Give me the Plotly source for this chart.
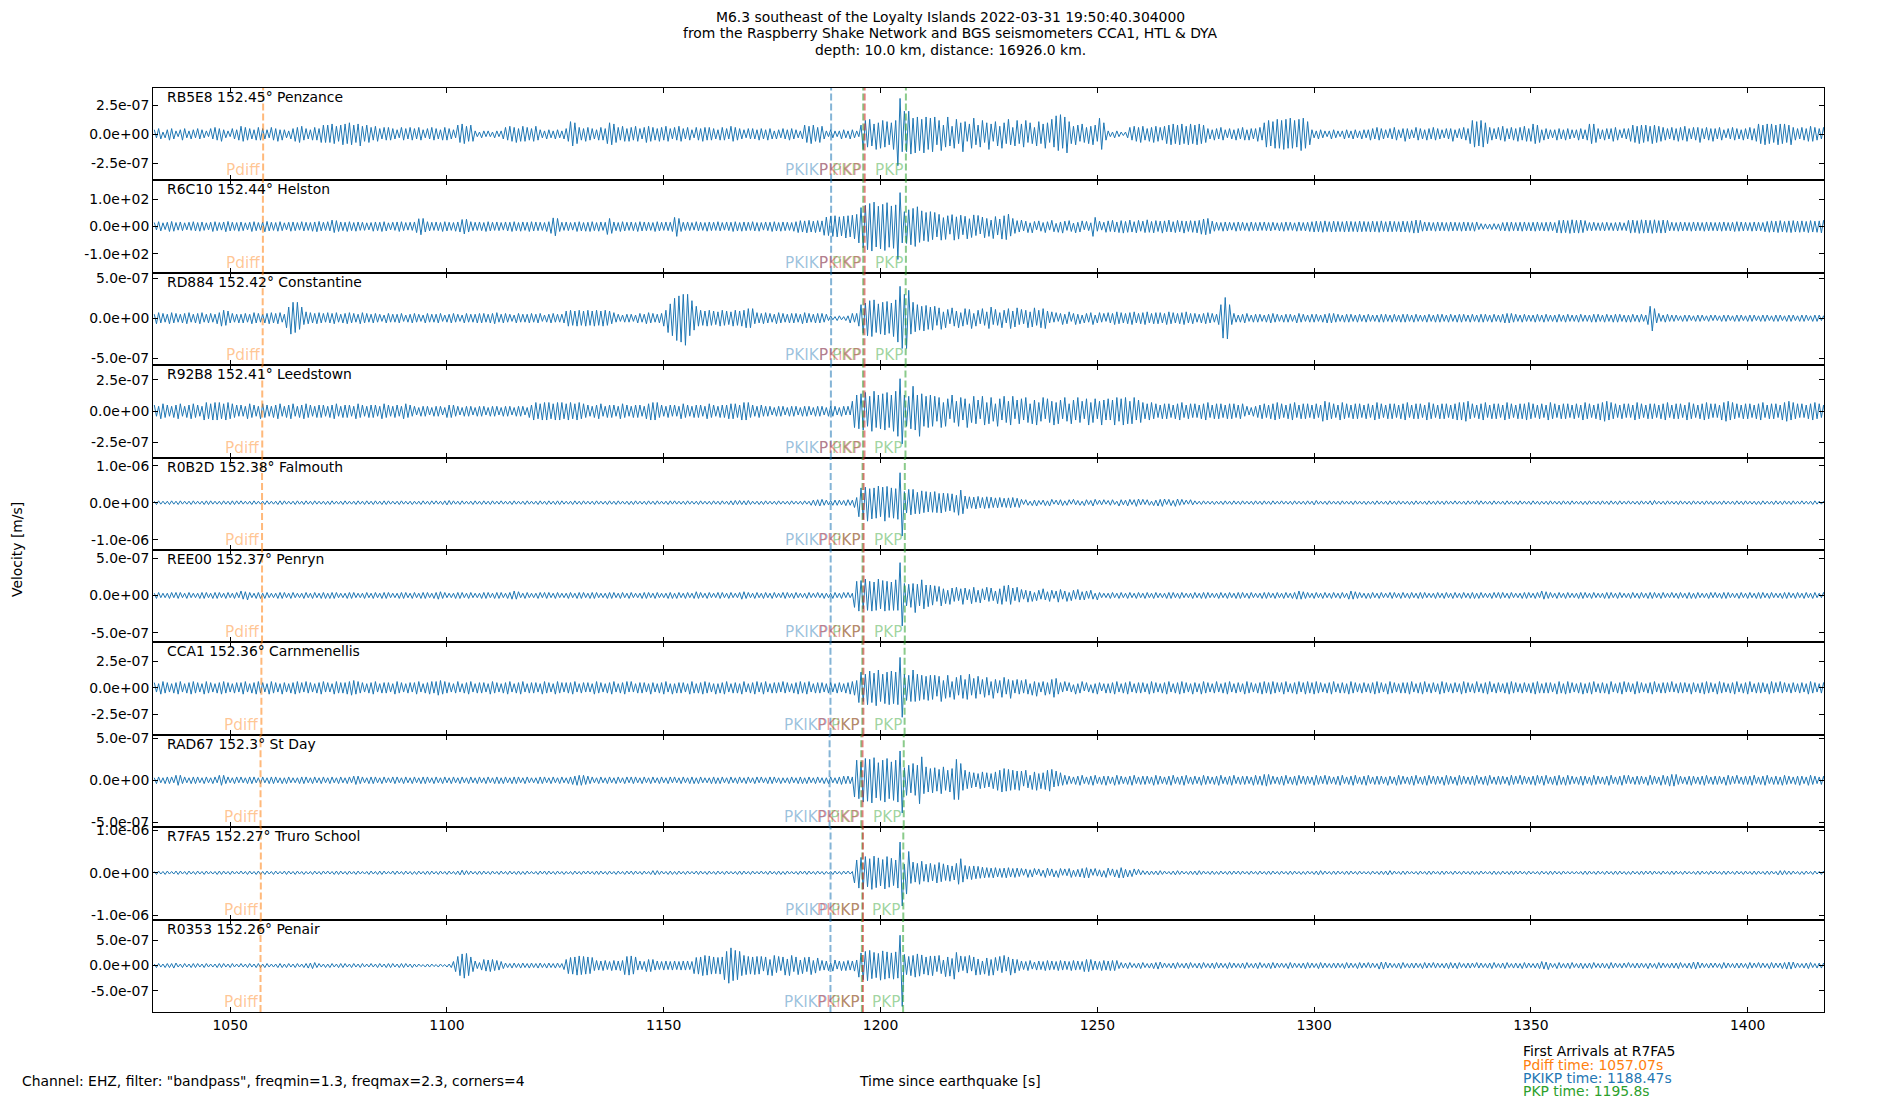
import plotly.graph_objects as go
from plotly.subplots import make_subplots

# decimated traces: one sample every half second from t0 (s after origin)
t0 = 1032.5
dt = 0.5

stations = ["RB5E8", "R6C10", "RD884", "R92B8", "R0B2D", "REE00", "CCA1", "RAD67", "R7FA5", "R0353"]
distances = [152.45, 152.44, 152.42, 152.41, 152.38, 152.37, 152.36, 152.3, 152.27, 152.26]
places = ["Penzance", "Helston", "Constantine", "Leedstown", "Falmouth", "Penryn",
          "Carnmenellis", "St Day", "Truro School", "Penair"]

# unit of each sample list (R6C10 was left in counts)
units = [1e-8, 1.0, 1e-8, 1e-8, 1e-8, 1e-8, 1e-8, 1e-8, 1e-8, 1e-8]

penzance = [
    4, -3, 5, -4, 2, -3, 4, -5, 5, -4, 3, -2, 4, -5, 5, -3, 3, -4, 4, -3,
    5, -4, 4, -3, 3, -2, 5, -4, 6, -5, 5, -6, 4, -3, 3, -2, 5, -4, 4, -5,
    7, -6, 6, -5, 5, -4, 4, -5, 6, -5, 5, -4, 4, -3, 6, -5, 5, -6, 4, -5,
    4, -3, 3, -4, 5, -6, 6, -7, 7, -5, 5, -4, 4, -5, 6, -5, 5, -7, 8, -7,
    8, -7, 9, -8, 7, -6, 8, -9, 9, -8, 10, -9, 8, -7, 9, -10, 7, -6, 8, -7,
    6, -5, 7, -6, 5, -4, 6, -5, 6, -5, 5, -4, 4, -3, 6, -5, 5, -4, 6, -5,
    5, -4, 6, -5, 4, -3, 5, -4, 6, -5, 5, -4, 4, -5, 6, -5, 5, -4, 4, -3,
    8, -7, 9, -8, 7, -6, 8, -6, 3, -2, 2, -3, 3, -2, 3, -2, 2, -3, 3, -2,
    3, -4, 6, -5, 7, -6, 6, -7, 5, -6, 7, -6, 6, -5, 5, -6, 7, -5, 4, -3,
    3, -4, 4, -3, 3, -4, 4, -3, 3, -4, 5, -6, 11, -10, 10, -8, 6, -5, 5, -6,
    6, -5, 5, -4, 4, -5, 6, -5, 5, -8, 10, -9, 9, -7, 6, -5, 7, -6, 5, -6,
    6, -5, 7, -6, 5, -4, 6, -7, 7, -6, 6, -5, 5, -6, 6, -5, 7, -6, 5, -4,
    6, -5, 7, -6, 5, -4, 6, -5, 4, -3, 6, -5, 5, -6, 6, -5, 6, -5, 5, -4,
    4, -5, 6, -5, 5, -4, 7, -6, 6, -5, 5, -4, 4, -3, 5, -4, 5, -4, 4, -5,
    5, -4, 4, -5, 5, -4, 3, -4, 4, -3, 5, -4, 4, -5, 5, -4, 4, -3, 3, -4,
    8, -7, 7, -8, 8, -6, 6, -7, 7, -4, 3, -2, 4, -3, 3, -2, 3, -4, 4, -3,
    3, -4, 4, -3, 3, -2, 8, -13, 12, -11, 13, -10, 9, -13, 10, -12, 12, -11, 11, -9,
    10, -13, 12, -27, 31, -15, 20, -15, 20, -17, 14, -16, 15, -14, 13, -16, 15, -13, 14, -15,
    15, -9, 12, -14, 8, -11, 15, -10, 7, -12, 13, -8, 10, -15, 11, -6, 9, -12, 14, -9,
    8, -11, 12, -7, 10, -13, 9, -6, 11, -10, 7, -12, 10, -8, 13, -9, 6, -10, 12, -8,
    9, -11, 12, -7, 10, -8, 6, -10, 11, -8, 9, -12, 10, -7, 13, -11, 16, -14, 17, -12,
    15, -16, 11, -8, 7, -9, 8, -6, 9, -7, 6, -8, 7, -9, 8, -6, 14, -13, 10, -5,
    3, -2, 2, -3, 3, -2, 2, -1, 2, -3, 6, -5, 7, -6, 6, -7, 7, -5, 5, -6,
    6, -7, 7, -6, 6, -5, 7, -8, 8, -9, 9, -8, 8, -9, 9, -8, 7, -9, 9, -8,
    8, -9, 9, -8, 8, -7, 5, -4, 4, -5, 5, -4, 6, -5, 4, -3, 5, -4, 4, -5,
    5, -4, 6, -5, 4, -5, 5, -4, 5, -6, 6, -5, 10, -11, 12, -10, 11, -12, 13, -12,
    12, -13, 13, -12, 14, -12, 12, -11, 13, -14, 14, -12, 11, -9, 4, -3, 3, -4, 4, -3,
    3, -2, 3, -4, 4, -3, 3, -2, 3, -4, 4, -3, 3, -4, 4, -3, 3, -4, 4, -3,
    4, -5, 5, -4, 6, -5, 5, -4, 4, -3, 5, -4, 6, -5, 4, -3, 5, -6, 5, -4,
    4, -3, 6, -5, 5, -4, 4, -5, 5, -4, 6, -5, 5, -4, 4, -3, 5, -4, 5, -6,
    4, -3, 5, -4, 6, -5, 5, -8, 12, -11, 11, -10, 12, -11, 10, -8, 6, -5, 5, -4,
    6, -5, 7, -6, 5, -4, 6, -5, 5, -6, 6, -5, 7, -6, 5, -6, 9, -8, 8, -7,
    4, -5, 5, -4, 4, -3, 4, -5, 5, -4, 4, -5, 5, -4, 4, -3, 4, -5, 5, -4,
    4, -5, 9, -8, 9, -7, 5, -4, 4, -5, 5, -4, 5, -6, 6, -5, 4, -3, 5, -4,
    5, -6, 8, -7, 7, -8, 8, -7, 8, -6, 7, -8, 8, -7, 7, -6, 6, -5, 5, -4,
    6, -5, 5, -6, 6, -5, 7, -6, 5, -4, 6, -5, 6, -7, 5, -4, 6, -5, 5, -6,
    5, -4, 6, -5, 4, -3, 5, -4, 6, -5, 5, -4, 4, -5, 5, -4, 6, -5, 5, -6,
    9, -8, 8, -9, 9, -8, 9, -7, 8, -9, 9, -8, 9, -7, 8, -9, 6, -5, 5, -4,
    6, -5, 5, -6, 7, -6, 6, -5, 5, -4, 6, -5,
]

helston = [
    15, -12, 18, -16, 14, -11, 16, -18, 19, -17, 15, -13, 17, -15, 14, -12, 16, -14, 18, -16,
    15, -17, 17, -14, 14, -12, 16, -18, 18, -15, 15, -13, 17, -19, 19, -16, 16, -14, 15, -17,
    17, -15, 14, -12, 16, -18, 18, -15, 15, -13, 17, -19, 19, -16, 16, -14, 15, -17, 18, -15,
    14, -12, 16, -17, 17, -15, 15, -13, 18, -16, 16, -14, 15, -17, 17, -19, 19, -16, 16, -14,
    18, -16, 24, -22, 22, -18, 17, -15, 16, -18, 18, -15, 15, -17, 17, -14, 16, -14, 14, -12,
    15, -17, 17, -15, 16, -18, 18, -16, 14, -12, 16, -14, 17, -18, 18, -15, 15, -13, 16, -14,
    17, -22, 29, -30, 30, -20, 18, -16, 16, -14, 17, -15, 15, -18, 18, -16, 16, -14, 15, -17,
    17, -20, 26, -27, 27, -20, 18, -15, 16, -14, 17, -15, 15, -18, 18, -16, 16, -14, 17, -15,
    15, -13, 17, -16, 16, -18, 18, -15, 15, -17, 17, -14, 16, -18, 18, -16, 17, -15, 16, -14,
    15, -18, 18, -25, 32, -34, 30, -18, 16, -14, 17, -15, 15, -13, 16, -18, 18, -16, 15, -17,
    16, -18, 18, -15, 15, -17, 17, -14, 16, -29, 30, -25, 17, -15, 15, -18, 18, -16, 16, -14,
    17, -15, 15, -18, 18, -16, 17, -15, 16, -14, 15, -18, 18, -16, 16, -14, 17, -15, 16, -18,
    34, -36, 30, -18, 16, -14, 17, -15, 15, -13, 18, -16, 16, -14, 15, -17, 17, -15, 16, -14,
    18, -16, 15, -13, 17, -15, 16, -18, 18, -16, 15, -17, 17, -15, 16, -14, 18, -16, 15, -17,
    15, -13, 17, -15, 16, -18, 18, -16, 15, -17, 17, -15, 16, -14, 15, -17, 18, -22, 22, -20,
    21, -23, 23, -20, 20, -22, 22, -19, 21, -32, 35, -33, 38, -36, 40, -38, 36, -34, 38, -42,
    40, -38, 42, -45, 45, -60, 70, -78, 78, -85, 85, -90, 90, -75, 75, -82, 82, -88, 88, -76,
    76, -80, 80, -121, 125, -60, 55, -62, 62, -67, 67, -73, 73, -58, 58, -52, 52, -55, 55, -48,
    52, -38, 45, -50, 33, -47, 40, -28, 44, -50, 36, -46, 42, -30, 38, -45, 29, -40, 43, -33,
    41, -27, 35, -41, 30, -36, 24, -44, 37, -31, 28, -46, 40, -48, 46, -35, 30, -25, 22, -20,
    24, -16, 20, -22, 14, -23, 19, -12, 21, -17, 15, -22, 18, -13, 23, -19, 12, -21, 17, -24,
    20, -14, 22, -18, 13, -23, 16, -20, 21, -12, 19, -15, 14, -36, 34, -17, 20, -13, 16, -21,
    21, -18, 23, -20, 17, -22, 22, -24, 19, -21, 24, -20, 18, -23, 23, -17, 20, -22, 25, -21,
    19, -23, 22, -18, 20, -24, 21, -19, 24, -20, 18, -22, 23, -19, 21, -24, 20, -18, 22, -21,
    21, -23, 23, -28, 28, -30, 30, -26, 20, -17, 16, -14, 15, -17, 17, -16, 16, -13, 15, -17,
    17, -15, 16, -14, 14, -17, 17, -15, 15, -16, 16, -14, 17, -15, 15, -16, 16, -13, 14, -16,
    15, -17, 17, -14, 16, -14, 14, -17, 17, -15, 15, -16, 16, -18, 18, -20, 20, -19, 19, -21,
    21, -18, 18, -20, 20, -19, 19, -18, 18, -20, 20, -19, 19, -18, 18, -20, 20, -19, 19, -18,
    18, -20, 20, -19, 19, -21, 21, -18, 18, -20, 20, -19, 19, -18, 18, -20, 20, -19, 19, -21,
    21, -24, 24, -23, 23, -17, 17, -16, 16, -15, 15, -17, 17, -16, 16, -15, 15, -17, 17, -16,
    16, -15, 15, -17, 17, -16, 16, -15, 15, -17, 17, -11, 11, -10, 10, -9, 9, -11, 11, -10,
    10, -15, 15, -16, 16, -17, 17, -15, 15, -16, 16, -17, 17, -15, 15, -16, 16, -17, 17, -15,
    15, -16, 16, -17, 17, -15, 15, -23, 23, -24, 24, -22, 22, -25, 25, -23, 23, -24, 24, -22,
    22, -15, 15, -16, 16, -14, 14, -15, 15, -16, 16, -14, 14, -15, 15, -16, 16, -14, 14, -15,
    23, -24, 24, -22, 22, -25, 25, -24, 24, -23, 23, -25, 25, -22, 22, -24, 24, -23, 23, -16,
    16, -15, 15, -17, 17, -16, 16, -15, 15, -17, 17, -16, 16, -15, 15, -17, 17, -16, 16, -15,
    15, -16, 16, -17, 17, -15, 15, -16, 16, -18, 18, -17, 17, -16, 16, -15, 15, -17, 17, -16,
    16, -15, 15, -19, 19, -21, 21, -20, 20, -22, 22, -19, 19, -21, 21, -22, 22, -20, 20, -21,
    21, -19, 19, -22, 22, -20, 20, -21, 21, -23, 23, -20,
]

constantine = [
    5, -7, 7, -6, 6, -5, 5, -7, 7, -6, 6, -5, 5, -6, 6, -7, 7, -5, 5, -6,
    6, -7, 7, -5, 5, -6, 6, -5, 5, -7, 7, -10, 10, -9, 9, -6, 6, -5, 5, -6,
    5, -6, 6, -5, 5, -7, 7, -6, 6, -5, 5, -6, 6, -7, 7, -6, 6, -7, 7, -5,
    5, -12, 14, -20, 20, -18, 20, -14, 14, -8, 8, -7, 7, -6, 6, -7, 7, -6, 6, -5,
    7, -6, 6, -7, 7, -5, 5, -6, 6, -7, 7, -6, 6, -5, 5, -7, 7, -6, 6, -5,
    5, -6, 6, -5, 5, -4, 4, -6, 6, -5, 5, -5, 5, -6, 6, -4, 4, -5, 5, -6,
    6, -5, 5, -4, 4, -6, 6, -5, 5, -5, 5, -6, 6, -4, 4, -5, 5, -6, 6, -5,
    5, -4, 4, -6, 6, -5, 5, -5, 5, -6, 6, -6, 6, -5, 5, -6, 6, -7, 7, -5,
    5, -6, 6, -5, 5, -4, 4, -6, 6, -5, 5, -5, 5, -6, 6, -5, 5, -6, 6, -4,
    4, -5, 5, -6, 6, -5, 5, -5, 5, -6, 9, -10, 10, -9, 9, -10, 10, -9, 9, -10,
    10, -9, 9, -10, 10, -9, 9, -10, 10, -9, 9, -7, 7, -5, 5, -4, 4, -5, 5, -5,
    5, -4, 4, -6, 6, -5, 5, -7, 7, -6, 6, -5, 5, -6, 6, -10, 10, -18, 18, -22,
    25, -28, 28, -30, 30, -34, 30, -22, 22, -15, 15, -10, 10, -9, 9, -10, 10, -9, 9, -8,
    8, -10, 10, -9, 9, -8, 8, -10, 10, -9, 9, -10, 10, -12, 12, -12, 12, -7, 7, -6,
    6, -7, 7, -6, 6, -5, 5, -7, 7, -6, 6, -5, 5, -6, 6, -6, 6, -5, 5, -7,
    7, -6, 6, -5, 5, -6, 6, -6, 6, -5, 5, -3, 3, -2, 2, -3, 3, -2, 2, -3,
    3, -6, 6, -5, 6, -10, 17, -19, 19, -22, 22, -23, 23, -18, 18, -20, 20, -21, 21, -19,
    19, -23, 23, -30, 40, -38, 30, -38, 35, -20, 20, -17, 17, -15, 15, -16, 16, -14, 14, -15,
    15, -9, 13, -14, 8, -12, 11, -7, 13, -10, 9, -12, 7, -10, 12, -8, 11, -13, 6, -10,
    10, -7, 12, -9, 8, -13, 14, -8, 11, -9, 7, -12, 10, -6, 12, -13, 9, -11, 13, -8,
    11, -7, 10, -12, 8, -11, 13, -9, 10, -12, 12, -13, 9, -6, 8, -5, 7, -4, 6, -8,
    5, -7, 8, -4, 6, -8, 5, -7, 4, -6, 6, -5, 7, -8, 4, -6, 7, -5, 6, -4,
    7, -6, 6, -8, 8, -7, 7, -6, 6, -7, 7, -8, 8, -6, 6, -7, 7, -8, 8, -6,
    6, -7, 7, -7, 7, -6, 6, -8, 8, -7, 7, -6, 6, -7, 7, -8, 8, -6, 6, -7,
    6, -5, 5, -6, 6, -7, 7, -6, 6, -5, 5, -8, 17, -25, 26, -26, 17, -8, 6, -5,
    4, -5, 5, -6, 6, -4, 4, -5, 5, -5, 5, -4, 4, -5, 5, -6, 6, -5, 5, -4,
    4, -5, 5, -5, 5, -4, 4, -6, 6, -5, 5, -4, 4, -5, 5, -5, 5, -4, 4, -5,
    5, -6, 6, -6, 6, -5, 5, -4, 4, -5, 5, -5, 5, -4, 4, -5, 5, -4, 4, -5,
    5, -4, 4, -4, 4, -5, 5, -5, 5, -4, 4, -5, 5, -4, 4, -5, 5, -5, 5, -4,
    4, -5, 5, -4, 4, -4, 4, -5, 5, -4, 4, -5, 5, -5, 5, -4, 4, -5, 5, -4,
    4, -5, 5, -5, 5, -4, 4, -5, 5, -4, 4, -5, 5, -5, 5, -4, 4, -5, 5, -4,
    4, -5, 5, -6, 6, -6, 6, -5, 5, -4, 4, -5, 5, -4, 4, -4, 4, -5, 5, -4,
    4, -5, 5, -4, 4, -4, 4, -5, 5, -4, 4, -5, 5, -4, 4, -4, 4, -5, 5, -4,
    4, -4, 4, -5, 5, -5, 5, -4, 4, -5, 5, -4, 4, -5, 5, -5, 5, -4, 4, -5,
    4, -5, 5, -4, 4, -5, 5, -4, 4, -8, 15, -16, 12, -6, 6, -4, 4, -5, 5, -4,
    4, -4, 4, -3, 3, -4, 4, -4, 4, -3, 3, -4, 4, -4, 4, -3, 3, -4, 4, -3,
    4, -3, 3, -4, 4, -4, 4, -3, 3, -4, 4, -4, 4, -3, 3, -4, 4, -4, 4, -3,
    3, -4, 4, -4, 4, -3, 3, -4, 4, -4, 4, -3, 3, -4, 4, -4, 4, -3, 3, -4,
    4, -4, 4, -3, 3, -4, 4, -4, 4, -3, 3, -4,
]

leedstown = [
    5, -4, 4, -6, 6, -5, 5, -4, 4, -5, 5, -6, 6, -4, 4, -5, 5, -6, 6, -5,
    5, -4, 4, -7, 7, -6, 6, -7, 7, -7, 7, -6, 6, -7, 7, -6, 6, -5, 5, -4,
    5, -4, 4, -6, 6, -5, 5, -4, 4, -6, 6, -5, 5, -4, 4, -5, 5, -6, 6, -4,
    4, -5, 5, -6, 6, -4, 4, -5, 5, -6, 6, -5, 5, -4, 4, -5, 5, -5, 5, -4,
    4, -5, 5, -6, 6, -4, 4, -5, 5, -5, 5, -4, 4, -6, 6, -5, 5, -4, 4, -5,
    5, -5, 5, -4, 4, -6, 6, -5, 5, -4, 4, -5, 5, -4, 4, -6, 6, -5, 5, -4,
    4, -3, 3, -4, 4, -4, 4, -3, 3, -4, 4, -4, 4, -3, 3, -5, 5, -5, 5, -4,
    4, -3, 3, -4, 4, -4, 4, -3, 3, -4, 4, -4, 4, -3, 3, -4, 4, -4, 4, -3,
    3, -4, 4, -4, 4, -3, 3, -4, 4, -4, 4, -3, 3, -5, 5, -7, 7, -6, 6, -7,
    7, -7, 7, -6, 6, -7, 7, -7, 7, -6, 6, -7, 7, -6, 6, -7, 7, -6, 6, -5,
    5, -4, 4, -5, 5, -6, 6, -4, 4, -5, 5, -5, 5, -4, 4, -6, 6, -5, 5, -4,
    4, -5, 5, -5, 5, -4, 4, -6, 6, -7, 7, -7, 7, -5, 5, -4, 4, -5, 5, -4,
    5, -4, 4, -6, 6, -5, 5, -4, 4, -5, 5, -5, 5, -4, 4, -6, 6, -5, 5, -4,
    4, -5, 5, -5, 5, -6, 6, -6, 6, -5, 5, -7, 7, -7, 7, -5, 5, -4, 4, -5,
    5, -4, 4, -4, 4, -3, 3, -4, 4, -4, 4, -3, 3, -4, 4, -4, 4, -3, 3, -4,
    4, -4, 4, -3, 3, -4, 4, -4, 4, -3, 3, -4, 4, -4, 4, -3, 3, -4, 4, -3,
    4, -3, 8, -13, 13, -14, 14, -15, 15, -12, 12, -16, 16, -13, 13, -14, 14, -15, 15, -13,
    13, -16, 16, -20, 26, -26, 13, -12, 12, -14, 20, -15, 13, -20, 14, -12, 12, -13, 13, -12,
    12, -8, 11, -13, 7, -12, 10, -6, 13, -9, 8, -12, 11, -7, 10, -13, 6, -9, 12, -10,
    9, -6, 12, -11, 7, -10, 11, -8, 6, -12, 10, -7, 12, -9, 8, -11, 12, -6, 9, -10,
    10, -7, 11, -9, 6, -10, 9, -11, 7, -8, 11, -6, 10, -9, 8, -11, 7, -10, 9, -6,
    11, -8, 6, -10, 9, -7, 11, -9, 8, -6, 10, -11, 7, -9, 10, -6, 8, -11, 9, -7,
    10, -7, 9, -11, 11, -8, 10, -11, 11, -10, 8, -10, 11, -7, 9, -9, 7, -6, 6, -7,
    7, -6, 6, -5, 5, -6, 6, -6, 6, -5, 5, -6, 6, -7, 7, -5, 5, -6, 6, -5,
    6, -5, 5, -6, 6, -7, 7, -5, 5, -6, 6, -6, 6, -5, 5, -6, 6, -6, 6, -5,
    5, -6, 6, -4, 4, -3, 3, -4, 4, -5, 5, -6, 6, -5, 5, -6, 6, -7, 7, -6,
    6, -5, 5, -6, 6, -7, 7, -5, 5, -6, 6, -6, 6, -5, 5, -6, 6, -5, 5, -8,
    8, -7, 7, -6, 6, -5, 5, -7, 7, -6, 6, -5, 5, -6, 6, -6, 6, -5, 5, -6,
    6, -5, 5, -7, 7, -6, 6, -5, 5, -6, 6, -6, 6, -5, 5, -6, 6, -7, 7, -5,
    5, -6, 6, -6, 6, -5, 5, -7, 7, -6, 6, -5, 5, -6, 6, -6, 6, -5, 5, -6,
    6, -7, 7, -7, 7, -8, 8, -6, 6, -5, 5, -6, 6, -7, 7, -5, 5, -6, 6, -6,
    6, -5, 5, -7, 7, -6, 6, -5, 5, -6, 6, -6, 6, -7, 7, -6, 6, -5, 5, -6,
    6, -5, 5, -7, 7, -6, 6, -5, 5, -6, 6, -6, 6, -5, 5, -6, 6, -5, 5, -7,
    7, -6, 6, -5, 5, -6, 6, -7, 7, -8, 8, -7, 7, -6, 6, -5, 5, -6, 6, -5,
    6, -5, 5, -7, 7, -6, 6, -5, 5, -6, 6, -6, 6, -5, 5, -6, 6, -7, 7, -5,
    5, -6, 6, -6, 6, -5, 5, -7, 7, -6, 6, -5, 5, -6, 6, -7, 7, -6, 6, -5,
    6, -5, 5, -7, 7, -8, 8, -7, 7, -6, 6, -5, 5, -6, 6, -6, 6, -5, 5, -6,
    6, -7, 7, -5, 5, -6, 6, -6, 6, -5, 5, -7, 7, -8, 8, -7, 7, -6, 6, -5,
    6, -5, 5, -6, 6, -7, 7, -6, 6, -5, 5, -6,
]

falmouth = [
    4, -5, 5, -4, 4, -4, 4, -5, 5, -4, 4, -5, 5, -4, 4, -4, 4, -5, 5, -4,
    4, -4, 4, -5, 5, -5, 5, -4, 4, -4, 4, -5, 5, -4, 4, -5, 5, -5, 5, -4,
    5, -4, 4, -4, 4, -5, 5, -4, 4, -4, 4, -5, 5, -4, 4, -4, 4, -5, 5, -5,
    5, -4, 4, -4, 4, -5, 5, -4, 4, -5, 5, -4, 4, -5, 5, -4, 4, -4, 4, -5,
    4, -5, 5, -4, 4, -4, 4, -5, 5, -4, 4, -4, 4, -5, 5, -4, 4, -5, 5, -4,
    4, -5, 5, -4, 4, -5, 5, -5, 5, -4, 4, -4, 4, -5, 5, -4, 4, -4, 4, -5,
    4, -4, 4, -5, 5, -4, 4, -5, 5, -4, 5, -4, 4, -5, 5, -6, 6, -5, 5, -4,
    4, -5, 5, -4, 4, -4, 4, -5, 5, -4, 4, -5, 5, -4, 4, -5, 5, -4, 4, -4,
    5, -4, 4, -4, 4, -5, 5, -4, 4, -4, 4, -5, 5, -4, 4, -4, 4, -5, 5, -4,
    4, -5, 5, -4, 4, -5, 5, -5, 5, -4, 4, -4, 4, -5, 5, -4, 4, -5, 5, -4,
    4, -4, 4, -5, 5, -4, 4, -4, 4, -5, 5, -4, 4, -5, 5, -4, 4, -4, 4, -5,
    4, -5, 5, -4, 4, -4, 4, -5, 5, -4, 4, -5, 5, -4, 4, -4, 4, -5, 5, -4,
    5, -4, 4, -4, 4, -5, 5, -4, 4, -4, 4, -5, 5, -4, 4, -4, 4, -5, 5, -4,
    4, -5, 5, -4, 4, -5, 5, -6, 6, -5, 6, -5, 5, -6, 6, -5, 4, -4, 4, -5,
    4, -5, 5, -4, 4, -4, 4, -5, 5, -4, 4, -4, 4, -5, 5, -4, 4, -4, 4, -5,
    5, -4, 4, -7, 7, -8, 8, -9, 9, -7, 7, -6, 6, -7, 7, -7, 7, -6, 6, -8,
    8, -7, 7, -13, 14, -38, 40, -45, 42, -50, 38, -44, 40, -42, 45, -38, 42, -50, 44, -40,
    40, -42, 38, -45, 81, -90, 30, -28, 36, -33, 36, -30, 28, -30, 32, -27, 30, -25, 28, -26,
    30, -27, 25, -28, 26, -24, 25, -22, 24, -26, 20, -34, 34, -30, 18, -16, 16, -15, 15, -17,
    17, -14, 14, -16, 16, -15, 15, -13, 13, -14, 14, -12, 12, -13, 13, -14, 14, -12, 12, -13,
    9, -5, 8, -7, 4, -8, 7, -9, 6, -5, 7, -8, 5, -9, 9, -4, 7, -6, 8, -8,
    5, -7, 8, -4, 9, -6, 6, -7, 4, -8, 8, -5, 6, -9, 9, -5, 7, -6, 8, -4,
    6, -7, 8, -5, 4, -9, 8, -6, 7, -9, 9, -5, 8, -10, 10, -6, 9, -5, 8, -7,
    4, -8, 7, -9, 9, -10, 10, -5, 9, -8, 6, -10, 10, -7, 9, -5, 7, -4, 8, -6,
    5, -4, 4, -5, 5, -4, 4, -4, 4, -5, 4, -4, 4, -5, 5, -4, 4, -5, 5, -4,
    4, -5, 5, -4, 4, -4, 4, -5, 5, -4, 4, -5, 5, -4, 4, -5, 5, -4, 4, -4,
    5, -4, 4, -4, 4, -5, 5, -4, 4, -4, 4, -5, 5, -4, 4, -6, 6, -4, 4, -4,
    4, -5, 5, -4, 4, -4, 4, -5, 5, -4, 4, -4, 4, -5, 5, -4, 4, -4, 4, -5,
    4, -4, 4, -5, 5, -4, 4, -4, 4, -5, 5, -4, 4, -5, 5, -4, 4, -4, 4, -5,
    4, -5, 5, -4, 4, -4, 4, -5, 5, -4, 4, -5, 5, -4, 4, -5, 5, -4, 4, -4,
    5, -4, 4, -4, 4, -5, 5, -4, 4, -4, 6, -5, 5, -4, 4, -4, 4, -5, 5, -4,
    4, -4, 4, -5, 5, -4, 4, -4, 4, -5, 5, -4, 4, -4, 4, -5, 5, -4, 4, -5,
    4, -4, 4, -5, 5, -4, 4, -4, 4, -5, 5, -4, 4, -5, 5, -4, 4, -4, 4, -5,
    4, -5, 5, -4, 4, -4, 4, -5, 5, -4, 4, -5, 5, -4, 4, -5, 5, -4, 4, -4,
    5, -4, 4, -4, 4, -5, 5, -4, 4, -4, 5, -6, 6, -4, 4, -4, 4, -5, 5, -4,
    4, -4, 4, -5, 5, -4, 4, -4, 4, -5, 5, -4, 4, -4, 4, -5, 5, -4, 4, -5,
    4, -4, 4, -5, 5, -4, 4, -4, 4, -5, 5, -4, 4, -5, 5, -4, 4, -4, 4, -5,
    4, -5, 5, -4, 4, -4, 4, -5, 5, -4, 4, -5, 5, -4, 4, -5, 5, -4, 4, -4,
    5, -4, 4, -4, 4, -5, 5, -4, 4, -4, 4, -5,
]

penryn = [
    3, -4, 4, -3, 3, -3, 3, -4, 4, -3, 4, -4, 4, -3, 3, -4, 4, -3, 3, -3,
    3, -4, 4, -4, 4, -3, 3, -4, 4, -4, 4, -3, 3, -4, 4, -3, 3, -4, 4, -3,
    6, -5, 5, -6, 4, -3, 3, -4, 4, -4, 3, -4, 4, -3, 3, -3, 3, -4, 4, -4,
    4, -3, 3, -4, 4, -3, 3, -3, 3, -4, 4, -3, 3, -4, 4, -3, 3, -4, 4, -4,
    3, -4, 4, -4, 4, -3, 3, -3, 3, -4, 4, -4, 4, -3, 3, -3, 3, -4, 4, -3,
    3, -4, 4, -3, 3, -4, 4, -4, 4, -3, 3, -3, 3, -4, 4, -4, 4, -3, 3, -4,
    4, -3, 3, -4, 4, -4, 4, -3, 3, -4, 4, -5, 5, -4, 4, -3, 3, -3, 3, -4,
    4, -4, 4, -3, 3, -4, 4, -3, 3, -3, 3, -4, 4, -4, 4, -3, 3, -4, 4, -4,
    4, -3, 3, -4, 4, -5, 6, -5, 5, -3, 3, -4, 4, -3, 3, -3, 3, -4, 4, -3,
    4, -4, 4, -3, 3, -4, 4, -3, 3, -3, 3, -4, 4, -3, 3, -4, 4, -4, 4, -3,
    3, -4, 4, -4, 4, -3, 3, -3, 3, -4, 4, -4, 4, -3, 3, -4, 4, -3, 3, -4,
    4, -3, 3, -3, 3, -4, 4, -4, 4, -3, 3, -4, 4, -3, 3, -3, 3, -4, 4, -4,
    3, -4, 4, -3, 3, -4, 4, -3, 3, -4, 5, -4, 4, -3, 3, -4, 4, -3, 3, -3,
    4, -4, 4, -3, 3, -4, 4, -3, 3, -3, 4, -5, 5, -4, 4, -3, 3, -4, 4, -3,
    3, -4, 4, -3, 3, -4, 4, -3, 3, -3, 4, -4, 4, -3, 3, -4, 4, -3, 3, -3,
    3, -4, 4, -3, 3, -3, 4, -3, 3, -4, 3, -3, 3, -4, 4, -3, 3, -4, 4, -3,
    4, -3, 3, -16, 19, -21, 20, -18, 22, -20, 19, -21, 18, -20, 22, -18, 20, -21, 19, -20,
    18, -20, 21, -20, 44, -41, 16, -14, 15, -16, 16, -23, 15, -14, 21, -18, 14, -15, 14, -13,
    13, -8, 12, -14, 9, -11, 7, -12, 10, -8, 11, -7, 9, -12, 10, -6, 8, -11, 11, -9,
    7, -10, 9, -6, 11, -8, 10, -7, 6, -11, 9, -12, 13, -8, 14, -12, 10, -7, 11, -9,
    8, -5, 7, -9, 6, -8, 4, -7, 7, -5, 9, -6, 5, -8, 7, -4, 6, -9, 8, -5,
    6, -8, 4, -7, 7, -5, 8, -6, 5, -6, 6, -4, 7, -5, 3, -6, 4, -3, 3, -3,
    3, -4, 4, -3, 3, -4, 4, -3, 3, -4, 4, -3, 3, -4, 4, -3, 3, -4, 4, -3,
    3, -4, 4, -3, 3, -3, 3, -4, 4, -4, 4, -3, 3, -4, 4, -3, 3, -3, 3, -4,
    4, -3, 3, -4, 4, -4, 4, -3, 3, -3, 3, -4, 4, -3, 3, -4, 4, -3, 3, -4,
    4, -4, 4, -3, 3, -4, 4, -3, 3, -3, 3, -4, 4, -4, 4, -3, 3, -4, 4, -3,
    3, -4, 4, -3, 3, -4, 4, -5, 6, -5, 5, -4, 4, -3, 3, -4, 4, -3, 3, -4,
    4, -3, 3, -4, 4, -3, 3, -4, 4, -3, 3, -5, 6, -5, 5, -4, 4, -3, 3, -4,
    3, -4, 4, -3, 3, -4, 4, -3, 3, -3, 4, -4, 4, -3, 3, -4, 4, -3, 3, -4,
    4, -3, 3, -4, 4, -4, 4, -3, 3, -3, 3, -4, 4, -3, 3, -4, 4, -3, 3, -4,
    4, -3, 3, -4, 4, -3, 3, -4, 4, -4, 3, -4, 4, -3, 3, -3, 3, -4, 4, -3,
    4, -4, 4, -3, 3, -4, 4, -3, 3, -3, 3, -4, 4, -4, 4, -3, 3, -4, 4, -3,
    6, -5, 5, -4, 4, -3, 3, -4, 4, -3, 3, -4, 4, -3, 3, -3, 3, -4, 4, -4,
    4, -3, 3, -4, 4, -3, 3, -3, 3, -4, 4, -4, 4, -3, 3, -4, 4, -3, 3, -3,
    3, -4, 4, -3, 3, -4, 4, -3, 3, -4, 4, -4, 4, -3, 3, -4, 4, -3, 3, -3,
    4, -3, 3, -4, 4, -3, 3, -4, 4, -4, 3, -4, 4, -3, 3, -3, 3, -4, 4, -3,
    4, -3, 3, -4, 4, -4, 4, -3, 3, -3, 3, -4, 4, -3, 3, -4, 4, -3, 3, -4,
    4, -4, 4, -3, 3, -4, 4, -3, 3, -3, 3, -4, 4, -4, 4, -3, 3, -4, 4, -3,
    3, -4, 4, -3, 3, -4, 4, -3, 3, -3, 4, -4,
]

carnmenellis = [
    5, -4, 4, -6, 6, -5, 5, -4, 4, -5, 5, -6, 6, -4, 4, -5, 5, -6, 6, -5,
    5, -4, 4, -6, 6, -5, 5, -4, 4, -5, 5, -6, 6, -5, 5, -4, 4, -5, 5, -4,
    5, -6, 6, -4, 4, -5, 5, -6, 6, -5, 5, -4, 4, -6, 6, -5, 5, -4, 4, -6,
    5, -4, 4, -5, 5, -6, 6, -5, 5, -4, 6, -5, 5, -4, 4, -5, 5, -6, 6, -4,
    5, -4, 4, -6, 6, -5, 5, -5, 5, -6, 6, -7, 7, -6, 6, -5, 5, -4, 4, -5,
    5, -6, 6, -4, 4, -5, 5, -5, 5, -4, 4, -6, 6, -5, 5, -4, 4, -5, 5, -4,
    5, -6, 6, -4, 4, -5, 5, -6, 6, -5, 6, -7, 7, -6, 6, -5, 5, -4, 4, -5,
    6, -4, 4, -5, 5, -6, 6, -4, 4, -5, 5, -5, 5, -4, 4, -6, 6, -5, 5, -4,
    4, -5, 5, -6, 6, -4, 4, -5, 5, -6, 6, -4, 4, -5, 5, -5, 5, -4, 4, -6,
    6, -5, 5, -4, 4, -6, 6, -5, 5, -4, 5, -5, 5, -6, 6, -4, 4, -5, 5, -4,
    5, -4, 4, -6, 6, -5, 5, -4, 4, -5, 5, -6, 6, -4, 4, -5, 5, -6, 6, -4,
    6, -4, 4, -5, 5, -5, 5, -4, 4, -6, 5, -4, 4, -5, 5, -6, 6, -4, 4, -6,
    4, -5, 5, -5, 5, -4, 4, -6, 6, -5, 4, -5, 5, -6, 6, -5, 5, -4, 4, -6,
    4, -5, 5, -6, 6, -4, 4, -5, 5, -5, 4, -6, 6, -4, 4, -5, 5, -6, 6, -4,
    5, -6, 6, -4, 4, -5, 5, -5, 5, -4, 6, -5, 5, -4, 4, -5, 5, -6, 6, -5,
    5, -6, 6, -4, 4, -5, 5, -5, 5, -4, 4, -5, 5, -4, 4, -5, 5, -4, 4, -5,
    5, -6, 6, -7, 7, -14, 15, -13, 13, -16, 16, -14, 14, -17, 17, -13, 13, -15, 15, -16,
    16, -15, 15, -16, 29, -28, 13, -12, 12, -13, 17, -13, 13, -12, 12, -11, 11, -12, 12, -11,
    12, -8, 11, -13, 7, -10, 12, -9, 6, -11, 10, -7, 12, -10, 8, -11, 13, -7, 9, -10,
    11, -6, 8, -9, 10, -7, 6, -10, 8, -5, 7, -9, 10, -6, 8, -10, 7, -5, 8, -6,
    7, -5, 8, -6, 4, -7, 6, -8, 5, -4, 6, -7, 5, -6, 8, -9, 9, -6, 5, -4,
    6, -3, 5, -4, 3, -6, 4, -5, 6, -3, 5, -4, 3, -5, 4, -6, 5, -3, 4, -5,
    4, -5, 5, -6, 6, -4, 4, -5, 5, -6, 6, -4, 4, -5, 5, -5, 5, -4, 4, -6,
    6, -5, 5, -4, 4, -5, 5, -6, 6, -4, 4, -5, 5, -6, 6, -5, 5, -4, 4, -6,
    5, -4, 4, -6, 6, -5, 5, -4, 4, -5, 6, -4, 4, -5, 5, -6, 6, -4, 4, -5,
    5, -4, 4, -6, 6, -5, 5, -4, 4, -5, 5, -6, 6, -5, 5, -6, 6, -5, 5, -4,
    5, -6, 6, -4, 4, -5, 5, -6, 6, -4, 5, -6, 6, -5, 5, -6, 6, -5, 5, -4,
    4, -5, 5, -6, 6, -4, 4, -5, 5, -5, 4, -6, 6, -5, 5, -4, 4, -5, 5, -4,
    4, -5, 5, -6, 6, -5, 5, -4, 4, -6, 6, -5, 5, -4, 4, -5, 5, -5, 5, -6,
    6, -4, 4, -5, 5, -6, 6, -4, 4, -5, 5, -4, 4, -6, 6, -5, 5, -4, 4, -5,
    5, -4, 4, -6, 6, -5, 5, -4, 4, -5, 6, -4, 4, -5, 5, -6, 6, -4, 4, -5,
    5, -4, 4, -5, 5, -6, 6, -5, 5, -4, 4, -5, 5, -4, 4, -5, 5, -6, 6, -5,
    4, -5, 5, -5, 5, -4, 4, -6, 6, -5, 4, -6, 6, -5, 5, -4, 4, -5, 5, -6,
    4, -5, 5, -6, 6, -4, 4, -5, 5, -5, 4, -6, 6, -4, 4, -5, 5, -6, 6, -4,
    5, -4, 4, -6, 6, -5, 5, -4, 4, -5, 5, -6, 6, -4, 4, -5, 5, -5, 5, -4,
    6, -4, 4, -5, 5, -5, 5, -4, 4, -6, 5, -4, 4, -5, 5, -6, 6, -5, 5, -4,
    4, -6, 6, -5, 5, -4, 4, -5, 5, -6, 6, -4, 4, -5, 5, -6, 6, -4, 4, -5,
    5, -5, 5, -4, 4, -6, 6, -5, 5, -4, 6, -5, 5, -4, 4, -5, 5, -4, 4, -5,
    5, -4, 4, -6, 6, -5, 5, -4, 4, -5, 5, -4,
]

st_day = [
    3, -4, 4, -3, 3, -4, 4, -4, 4, -3, 6, -6, 6, -4, 4, -3, 3, -4, 4, -4,
    4, -3, 3, -4, 4, -3, 3, -4, 4, -3, 6, -6, 6, -4, 4, -3, 3, -4, 4, -3,
    4, -3, 3, -4, 4, -4, 4, -3, 3, -4, 4, -3, 3, -4, 4, -4, 4, -3, 3, -4,
    3, -4, 4, -3, 3, -3, 3, -4, 4, -4, 4, -3, 3, -4, 4, -3, 3, -4, 4, -3,
    3, -4, 4, -3, 3, -4, 4, -3, 3, -4, 4, -3, 5, -5, 5, -4, 4, -3, 3, -4,
    4, -4, 4, -3, 3, -4, 4, -3, 3, -3, 4, -4, 4, -3, 3, -4, 4, -3, 3, -4,
    4, -3, 3, -4, 4, -4, 4, -3, 3, -4, 4, -3, 3, -4, 4, -3, 3, -4, 4, -3,
    3, -4, 4, -3, 3, -4, 4, -3, 3, -4, 4, -3, 3, -4, 4, -3, 3, -4, 4, -4,
    3, -4, 4, -3, 3, -4, 4, -4, 4, -3, 3, -4, 4, -3, 3, -3, 3, -4, 4, -4,
    4, -3, 3, -4, 4, -3, 3, -4, 4, -3, 3, -4, 4, -5, 5, -6, 6, -6, 6, -5,
    5, -4, 4, -3, 3, -4, 4, -3, 3, -4, 4, -3, 3, -4, 4, -3, 3, -4, 4, -3,
    4, -4, 4, -3, 3, -4, 4, -3, 3, -4, 4, -3, 3, -4, 4, -3, 3, -4, 4, -3,
    4, -3, 3, -4, 4, -3, 3, -4, 4, -4, 3, -4, 4, -3, 3, -3, 3, -4, 4, -4,
    3, -4, 4, -3, 3, -4, 4, -3, 3, -4, 4, -3, 3, -4, 4, -3, 3, -4, 4, -3,
    4, -3, 3, -4, 4, -4, 4, -3, 3, -4, 3, -3, 3, -4, 4, -3, 3, -4, 4, -4,
    3, -4, 4, -3, 3, -4, 4, -3, 3, -4, 3, -4, 4, -3, 3, -4, 4, -5, 5, -4,
    5, -4, 4, -20, 24, -22, 22, -26, 26, -25, 25, -27, 27, -21, 21, -24, 24, -26, 26, -22,
    22, -24, 24, -26, 35, -39, 15, -18, 18, -15, 20, -18, 18, -28, 28, -16, 16, -14, 14, -15,
    15, -13, 13, -16, 16, -12, 12, -14, 14, -23, 25, -23, 20, -12, 12, -10, 10, -9, 9, -8,
    8, -10, 10, -9, 9, -8, 8, -10, 10, -12, 12, -14, 14, -13, 13, -12, 12, -11, 11, -12,
    11, -7, 12, -9, 6, -11, 10, -12, 8, -10, 9, -11, 12, -13, 13, -8, 11, -7, 9, -6,
    6, -5, 5, -4, 4, -5, 5, -6, 6, -4, 4, -5, 5, -6, 6, -4, 4, -5, 5, -6,
    5, -4, 4, -6, 6, -5, 5, -4, 4, -5, 5, -6, 6, -4, 4, -5, 5, -5, 5, -4,
    4, -6, 6, -5, 5, -4, 4, -5, 5, -6, 6, -4, 4, -5, 5, -6, 6, -4, 4, -5,
    5, -4, 4, -6, 6, -5, 5, -4, 4, -5, 5, -6, 6, -4, 4, -5, 5, -6, 6, -4,
    4, -5, 5, -5, 5, -4, 4, -6, 6, -5, 5, -6, 7, -7, 7, -5, 5, -4, 4, -5,
    5, -6, 6, -4, 4, -5, 5, -6, 6, -4, 5, -5, 5, -4, 4, -6, 6, -5, 5, -4,
    6, -5, 5, -4, 4, -5, 5, -6, 6, -4, 4, -5, 5, -6, 6, -4, 4, -5, 5, -6,
    6, -4, 4, -5, 5, -5, 5, -4, 4, -6, 5, -4, 4, -6, 6, -5, 5, -4, 4, -5,
    5, -6, 6, -4, 4, -5, 5, -6, 6, -4, 5, -5, 5, -4, 4, -6, 6, -5, 5, -4,
    4, -6, 6, -5, 5, -4, 4, -5, 5, -6, 6, -4, 4, -5, 5, -6, 6, -4, 4, -5,
    5, -5, 5, -4, 4, -6, 6, -5, 5, -4, 6, -5, 5, -4, 4, -5, 5, -6, 6, -4,
    5, -6, 6, -4, 4, -5, 5, -6, 6, -5, 4, -6, 6, -5, 5, -4, 4, -5, 5, -6,
    5, -4, 4, -6, 6, -5, 5, -4, 4, -5, 5, -6, 6, -4, 4, -5, 5, -6, 6, -4,
    6, -4, 4, -5, 5, -5, 5, -4, 4, -6, 6, -5, 5, -4, 4, -6, 6, -5, 5, -7,
    7, -7, 7, -5, 5, -4, 4, -5, 5, -6, 5, -4, 4, -5, 5, -6, 6, -4, 4, -5,
    5, -5, 5, -4, 4, -6, 6, -5, 5, -4, 6, -4, 4, -5, 5, -5, 5, -6, 6, -4,
    4, -5, 5, -6, 6, -4, 4, -5, 5, -5, 4, -6, 6, -5, 5, -4, 4, -5, 5, -6,
    5, -4, 4, -6, 6, -5, 5, -4, 4, -5, 5, -6,
]

truro = [
    3, -4, 4, -3, 3, -4, 4, -3, 3, -3, 4, -4, 4, -3, 3, -4, 4, -3, 3, -4,
    4, -3, 3, -4, 4, -3, 3, -3, 3, -4, 4, -4, 4, -3, 3, -4, 4, -3, 3, -3,
    4, -3, 3, -4, 4, -3, 3, -4, 4, -4, 3, -4, 4, -3, 3, -4, 4, -3, 3, -3,
    4, -4, 4, -3, 3, -4, 4, -3, 3, -4, 3, -3, 3, -4, 4, -3, 3, -4, 4, -3,
    4, -3, 3, -4, 4, -4, 4, -3, 3, -4, 4, -3, 3, -4, 4, -3, 3, -3, 3, -4,
    4, -3, 3, -4, 4, -4, 4, -3, 3, -3, 4, -4, 4, -3, 3, -4, 4, -3, 3, -4,
    3, -4, 4, -3, 3, -4, 4, -4, 4, -3, 3, -4, 4, -3, 3, -4, 4, -3, 3, -4,
    4, -5, 6, -5, 5, -4, 4, -3, 3, -4, 4, -4, 4, -3, 3, -4, 4, -3, 3, -4,
    4, -3, 3, -4, 4, -3, 3, -4, 4, -4, 3, -4, 4, -3, 3, -3, 3, -4, 4, -3,
    4, -4, 4, -3, 3, -4, 4, -3, 3, -4, 3, -3, 3, -4, 4, -3, 3, -4, 4, -3,
    4, -3, 3, -4, 4, -4, 4, -3, 3, -4, 4, -3, 3, -4, 4, -3, 3, -4, 4, -3,
    4, -4, 4, -3, 3, -4, 4, -3, 3, -4, 5, -5, 5, -4, 4, -3, 3, -4, 4, -4,
    3, -4, 4, -3, 3, -4, 4, -3, 3, -3, 4, -4, 4, -3, 3, -4, 4, -3, 3, -4,
    4, -3, 3, -4, 4, -3, 3, -3, 3, -4, 4, -4, 4, -3, 3, -4, 4, -3, 3, -3,
    4, -3, 3, -4, 4, -3, 3, -4, 4, -4, 3, -4, 4, -3, 3, -3, 3, -4, 4, -3,
    4, -4, 4, -3, 3, -4, 4, -3, 3, -4, 3, -3, 3, -4, 4, -3, 3, -4, 4, -3,
    4, -3, 3, -24, 30, -36, 36, -38, 38, -33, 33, -39, 39, -35, 35, -31, 31, -38, 38, -34,
    34, -30, 30, -36, 72, -78, 20, -50, 50, -25, 25, -22, 22, -27, 27, -20, 20, -22, 22, -19,
    19, -24, 24, -21, 21, -18, 18, -20, 16, -17, 22, -27, 33, -22, 17, -15, 15, -16, 16, -14,
    15, -13, 13, -12, 12, -11, 11, -12, 12, -10, 10, -11, 11, -12, 12, -10, 10, -11, 11, -9,
    10, -6, 9, -11, 7, -10, 10, -5, 9, -8, 6, -11, 11, -7, 9, -10, 5, -11, 10, -6,
    9, -7, 10, -11, 6, -9, 8, -10, 10, -12, 12, -12, 9, -6, 10, -8, 7, -10, 5, -11,
    11, -6, 9, -10, 7, -12, 12, -12, 8, -10, 6, -9, 9, -5, 8, -5, 5, -4, 4, -5,
    4, -4, 4, -5, 5, -4, 4, -3, 3, -4, 4, -5, 5, -4, 4, -3, 3, -4, 4, -4,
    4, -5, 5, -4, 4, -3, 3, -4, 4, -4, 3, -4, 4, -3, 3, -4, 4, -4, 4, -3,
    4, -4, 4, -3, 3, -4, 4, -3, 3, -4, 4, -3, 3, -4, 4, -4, 4, -3, 3, -4,
    4, -3, 3, -4, 4, -4, 4, -3, 3, -4, 3, -4, 4, -3, 3, -4, 4, -5, 5, -4,
    4, -3, 3, -4, 4, -4, 4, -3, 3, -4, 4, -4, 4, -3, 3, -4, 4, -3, 3, -3,
    3, -4, 4, -3, 3, -4, 4, -4, 4, -5, 5, -4, 4, -3, 3, -4, 4, -4, 4, -3,
    3, -3, 3, -4, 4, -3, 3, -4, 4, -4, 4, -3, 3, -4, 4, -4, 4, -3, 3, -4,
    4, -3, 3, -4, 4, -3, 3, -4, 4, -4, 3, -4, 4, -3, 3, -3, 3, -4, 4, -4,
    3, -4, 4, -3, 3, -4, 4, -4, 4, -3, 4, -3, 3, -4, 4, -3, 3, -3, 3, -4,
    4, -3, 3, -4, 4, -4, 4, -3, 3, -4, 4, -3, 3, -3, 3, -3, 3, -3, 3, -4,
    4, -4, 4, -3, 3, -4, 4, -3, 3, -4, 4, -3, 3, -4, 4, -4, 4, -3, 3, -4,
    3, -4, 4, -3, 3, -4, 4, -4, 4, -3, 4, -4, 4, -3, 3, -4, 4, -3, 3, -4,
    4, -4, 4, -3, 3, -4, 4, -3, 3, -3, 3, -4, 4, -4, 4, -3, 3, -4, 4, -3,
    4, -3, 3, -4, 4, -4, 4, -3, 3, -4, 4, -3, 3, -4, 4, -3, 3, -4, 4, -4,
    4, -3, 3, -4, 4, -4, 4, -3, 3, -5, 5, -5, 5, -4, 4, -4, 4, -3, 3, -4,
    3, -4, 4, -3, 3, -4, 4, -3, 3, -4, 4, -3,
]

penair = [
    3, -4, 4, -3, 3, -4, 4, -4, 4, -5, 5, -3, 3, -4, 4, -3, 3, -4, 4, -4,
    4, -3, 3, -4, 4, -3, 3, -3, 3, -4, 4, -4, 4, -3, 3, -4, 4, -3, 3, -3,
    4, -3, 3, -4, 4, -3, 3, -4, 4, -4, 3, -4, 4, -3, 3, -3, 3, -4, 4, -4,
    3, -4, 4, -3, 3, -4, 4, -3, 3, -4, 4, -5, 5, -6, 6, -4, 4, -3, 3, -4,
    3, -4, 4, -3, 3, -4, 4, -4, 4, -3, 3, -4, 4, -3, 3, -4, 4, -3, 3, -3,
    4, -3, 3, -4, 4, -3, 3, -4, 4, -4, 4, -3, 3, -4, 4, -4, 4, -3, 3, -4,
    3, -3, 3, -2, 2, -3, 3, -3, 3, -2, 2, -3, 3, -2, 2, -3, 3, -4, 8, -12,
    18, -20, 23, -25, 24, -20, 17, -12, 9, -6, 6, -9, 12, -11, 11, -12, 12, -10, 10, -9,
    8, -6, 5, -4, 4, -5, 5, -4, 4, -5, 5, -4, 4, -5, 5, -4, 4, -5, 5, -4,
    4, -5, 5, -4, 4, -5, 5, -4, 4, -8, 12, -16, 16, -17, 17, -19, 19, -18, 18, -17,
    17, -16, 16, -10, 10, -9, 9, -10, 10, -8, 8, -10, 10, -9, 9, -10, 10, -18, 18, -19,
    19, -17, 17, -9, 9, -8, 8, -12, 12, -12, 12, -9, 9, -8, 8, -9, 9, -8, 8, -9,
    9, -8, 8, -9, 9, -9, 9, -8, 8, -16, 16, -17, 17, -20, 20, -19, 19, -17, 17, -16,
    16, -17, 17, -28, 28, -35, 35, -30, 30, -28, 28, -20, 20, -18, 18, -17, 17, -18, 18, -17,
    18, -11, 17, -19, 12, -20, 20, -14, 18, -10, 17, -19, 13, -20, 20, -12, 17, -18, 11, -16,
    16, -12, 17, -18, 10, -15, 15, -10, 10, -9, 9, -10, 6, -11, 11, -7, 9, -10, 8, -10,
    10, -9, 9, -11, 11, -23, 25, -28, 28, -30, 30, -26, 26, -24, 24, -29, 29, -27, 27, -25,
    25, -27, 27, -25, 60, -81, 22, -18, 18, -20, 20, -23, 23, -21, 21, -17, 17, -19, 19, -20,
    19, -12, 20, -16, 11, -22, 17, -21, 14, -27, 26, -13, 19, -10, 18, -15, 20, -11, 17, -19,
    13, -18, 9, -17, 15, -20, 12, -19, 16, -10, 18, -14, 20, -11, 17, -19, 13, -15, 12, -10,
    9, -8, 8, -10, 10, -7, 7, -9, 9, -8, 8, -10, 10, -9, 9, -8, 8, -10, 10, -9,
    9, -8, 8, -10, 10, -9, 9, -8, 8, -12, 12, -12, 12, -9, 9, -8, 8, -10, 10, -9,
    9, -10, 10, -10, 10, -6, 6, -5, 5, -6, 6, -4, 4, -5, 5, -6, 6, -4, 4, -5,
    5, -6, 6, -7, 7, -5, 5, -4, 4, -5, 5, -6, 6, -4, 4, -5, 5, -6, 6, -4,
    4, -5, 5, -6, 6, -4, 4, -5, 5, -6, 6, -5, 5, -4, 4, -6, 6, -5, 5, -4,
    4, -5, 5, -6, 6, -4, 4, -5, 5, -6, 6, -4, 4, -5, 5, -6, 6, -5, 5, -4,
    5, -4, 4, -6, 6, -5, 5, -4, 4, -5, 5, -6, 6, -5, 5, -4, 4, -6, 6, -5,
    5, -4, 4, -5, 5, -5, 5, -4, 4, -6, 6, -5, 5, -4, 4, -6, 6, -5, 5, -4,
    6, -5, 5, -4, 4, -7, 7, -7, 7, -5, 5, -4, 4, -5, 5, -6, 6, -4, 4, -5,
    5, -5, 5, -4, 4, -6, 6, -5, 5, -4, 6, -5, 5, -4, 4, -5, 5, -6, 6, -5,
    5, -6, 6, -4, 4, -5, 5, -5, 5, -4, 6, -5, 5, -4, 4, -5, 5, -6, 6, -4,
    4, -5, 5, -6, 6, -4, 4, -5, 5, -5, 4, -6, 6, -5, 5, -4, 4, -5, 5, -6,
    8, -7, 7, -8, 5, -4, 4, -6, 6, -5, 4, -5, 5, -6, 6, -4, 4, -5, 5, -6,
    4, -5, 5, -6, 6, -4, 4, -5, 5, -5, 4, -6, 6, -5, 5, -4, 4, -5, 5, -4,
    6, -4, 4, -5, 5, -5, 5, -4, 4, -6, 5, -4, 4, -6, 6, -5, 5, -4, 4, -5,
    5, -5, 5, -6, 6, -4, 4, -5, 5, -6, 7, -7, 7, -5, 5, -4, 4, -5, 5, -4,
    5, -4, 4, -6, 6, -5, 5, -4, 4, -5, 5, -5, 5, -4, 4, -6, 6, -5, 5, -4,
    6, -5, 5, -4, 4, -6, 6, -5, 5, -4, 5, -6, 6, -7, 7, -7, 7, -5, 5, -4,
    4, -5, 5, -6, 6, -4, 4, -5, 5, -5, 5, -4,
]

traces = [penzance, helston, constantine, leedstown, falmouth,
          penryn, carnmenellis, st_day, truro, penair]

# y limits and tick step of every panel
ylo = [-3.97e-7, -170, -5.9e-7, -3.7e-7, -1.28e-6, -6.3e-7, -4.47e-7, -5.6e-7, -1.1e-6, -9.2e-7]
yhi = [4.0e-7, 170, 5.7e-7, 3.68e-7, 1.22e-6, 6.1e-7, 4.33e-7, 5.43e-7, 1.07e-6, 9.1e-7]
ystep = [2.5e-7, 100, 5e-7, 2.5e-7, 1e-6, 5e-7, 2.5e-7, 5e-7, 1e-6, 5e-7]
ystep_text = ["2.5e-07", "1.0e+02", "5.0e-07", "2.5e-07", "1.0e-06",
              "5.0e-07", "2.5e-07", "5.0e-07", "1.0e-06", "5.0e-07"]

xticks = [1050, 1100, 1150, 1200, 1250, 1300, 1350, 1400]

# predicted arrivals at each station (s)
pdiff_t = [1057.6, 1057.55, 1057.5, 1057.4, 1057.35, 1057.35, 1057.2, 1057.0, 1057.07, 1057.0]
pkikp_t = [1188.6, 1188.6, 1188.6, 1188.55, 1188.5, 1188.5, 1188.45, 1188.25, 1188.47, 1188.45]
pkp_a_t = [1196.0, 1196.0, 1196.0, 1195.95, 1195.85, 1195.85, 1195.8, 1195.55, 1195.8, 1195.7]
pkikp2_t = [1196.35, 1196.35, 1196.3, 1196.3, 1196.1, 1196.1, 1196.05, 1195.85, 1195.95, 1195.95]
pkp_b_t = [1205.85, 1205.85, 1205.8, 1205.75, 1205.6, 1205.6, 1205.55, 1205.35, 1205.25, 1205.2]

phase_names = ["Pdiff", "PKIKP", "PKP", "PKiKP", "PKP"]
phase_rgb = ["255,127,14", "31,119,180", "44,160,44", "214,39,40", "44,160,44"]
phase_times = [pdiff_t, pkikp_t, pkp_a_t, pkikp2_t, pkp_b_t]

first_phases = ["Pdiff", "PKIKP", "PKP"]
first_times = [1057.07, 1188.47, 1195.8]
first_colors = ["#ff7f0e", "#1f77b4", "#2ca02c"]

title_lines = [
    "M6.3 southeast of the Loyalty Islands 2022-03-31 19:50:40.304000",
    "from the Raspberry Shake Network and BGS seismometers CCA1, HTL & DYA",
    "depth: 10.0 km, distance: 16926.0 km.",
]

W, H = 1900, 1100
L, R, T, B = 153, 76, 88, 88
FONT = "DejaVu Sans"


def fx(px):
    return (px - L) / (W - L - R)


def fy(py):
    return (H - B - py) / (H - T - B)


fig = make_subplots(rows=10, cols=1, shared_xaxes=True, vertical_spacing=0)

for i, vals in enumerate(traces):
    t = [t0 + dt * k for k in range(len(vals))]
    fig.add_trace(
        go.Scatter(
            x=t,
            y=[v * units[i] for v in vals],
            mode="lines",
            line=dict(color="#1f77b4", width=1),
            hoverinfo="skip",
        ),
        row=i + 1,
        col=1,
    )
    xr = "x" if i == 0 else "x{}".format(i + 1)
    yr = "y" if i == 0 else "y{}".format(i + 1)

    for name, rgb, times in zip(phase_names, phase_rgb, phase_times):
        fig.add_shape(
            type="line", xref=xr, yref=yr + " domain",
            x0=times[i], x1=times[i], y0=0, y1=1,
            line=dict(color="rgba({},0.55)".format(rgb), width=2, dash="7px,3px"),
        )
        fig.add_annotation(
            x=times[i], xref=xr, y=0, yref=yr + " domain",
            xanchor="right", yanchor="bottom", xshift=-1, yshift=-1,
            text=name, showarrow=False,
            font=dict(family=FONT, size=15.3, color="rgba({},0.45)".format(rgb)),
        )

    fig.add_annotation(
        x=0.0072, xref=xr + " domain", y=1, yref=yr + " domain",
        xanchor="left", yanchor="top", yshift=1, showarrow=False,
        text="{} {}° {}".format(stations[i], distances[i], places[i]),
        font=dict(family=FONT, size=13.9, color="black"),
    )

    fig.update_yaxes(
        range=[ylo[i], yhi[i]],
        tickvals=[ystep[i], 0, -ystep[i]],
        ticktext=[ystep_text[i], "0.0e+00", "-" + ystep_text[i]],
        row=i + 1, col=1,
    )

fig.update_xaxes(
    range=[1032.2, 1417.6], tickvals=xticks, ticks="inside", ticklen=5,
    tickcolor="black", showline=True, linecolor="black", linewidth=1,
    mirror="ticks", showgrid=False, zeroline=False,
    tickfont=dict(family=FONT, size=13.9, color="black"),
)
fig.update_yaxes(
    ticks="inside", ticklen=5, tickcolor="black", showline=True,
    linecolor="black", linewidth=1, mirror="ticks", showgrid=False,
    zeroline=False, tickfont=dict(family=FONT, size=13.9, color="black"),
)

for k, line in enumerate(title_lines):
    fig.add_annotation(
        x=fx(950), y=fy(16.7 + 16.7 * k), xref="paper", yref="paper",
        xanchor="center", yanchor="middle", showarrow=False, text=line,
        font=dict(family=FONT, size=13.9, color="black"),
    )

fig.add_annotation(
    x=fx(20), y=fy(1081), xref="paper", yref="paper", xanchor="left",
    yanchor="middle", showarrow=False,
    text='Channel: EHZ, filter: "bandpass", freqmin=1.3, freqmax=2.3, corners=4',
    font=dict(family=FONT, size=13.9, color="black"),
)
fig.add_annotation(
    x=fx(950), y=fy(1081), xref="paper", yref="paper", xanchor="center",
    yanchor="middle", showarrow=False, text="Time since earthquake [s]",
    font=dict(family=FONT, size=13.9, color="black"),
)
fig.add_annotation(
    x=fx(17), y=0.5, xref="paper", yref="paper", xanchor="center",
    yanchor="middle", showarrow=False, text="Velocity [m/s]", textangle=-90,
    font=dict(family=FONT, size=13.9, color="black"),
)

fig.add_annotation(
    x=fx(1520.7), y=fy(1051), xref="paper", yref="paper", xanchor="left",
    yanchor="middle", showarrow=False, text="First Arrivals at R7FA5",
    font=dict(family=FONT, size=13.9, color="black"),
)
for k, (ph, tt, col) in enumerate(zip(first_phases, first_times, first_colors)):
    fig.add_annotation(
        x=fx(1520.7), y=fy(1064.5 + 13.4 * k), xref="paper", yref="paper",
        xanchor="left", yanchor="middle", showarrow=False,
        text="{} time: {}s".format(ph, tt),
        font=dict(family=FONT, size=13.9, color=col),
    )

fig.update_layout(
    width=W, height=H,
    margin=dict(l=L, r=R, t=T, b=B),
    showlegend=False,
    paper_bgcolor="white", plot_bgcolor="white",
    font=dict(family=FONT, size=13.9, color="black"),
)

# page has a default 8px body margin; drop it so the figure fills the window
fig.write_html(
    "out.html",
    config={"displayModeBar": False},
    post_script="document.body.style.margin = '0';",
)
